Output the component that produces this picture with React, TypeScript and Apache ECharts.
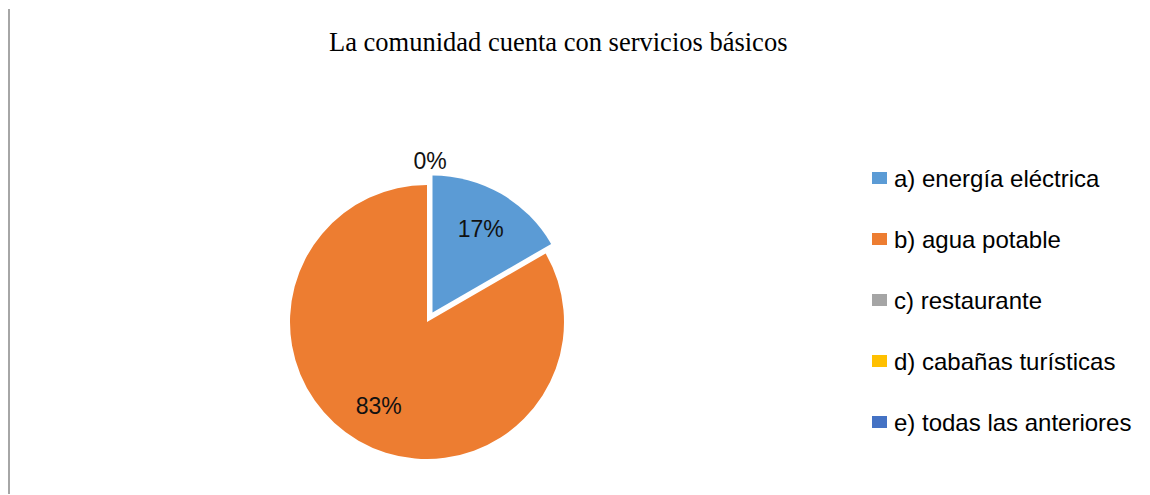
import React, { useEffect, useRef } from 'react';
import * as echarts from 'echarts';

const categories = [
  'a) energía eléctrica',
  'b) agua potable',
  'c) restaurante',
  'd) cabañas turísticas',
  'e) todas las anteriores',
];
const values = [1, 5, 0, 0, 0];
const colors = ['#5B9BD5', '#ED7D31', '#A5A5A5', '#FFC000', '#4472C4'];
const explodedIndex = 0;
const titleText = 'La comunidad cuenta con servicios básicos';

export default function App() {
  const ref = useRef<HTMLDivElement>(null);
  useEffect(() => {
    document.body.style.margin = '0';
    const chart = echarts.init(ref.current!, null, { renderer: 'svg' });
    const center = [427, 322];
    const r = 137;
    const labelFont = "'Liberation Sans', Arial, sans-serif";
    const pct = (p: any) => Math.round(p.percent) + '%';
    chart.setOption({
      animation: false,
      title: {
        text: titleText,
        left: 324,
        top: 23,
        textStyle: {
          fontFamily: "'Liberation Serif', 'Times New Roman', serif",
          fontSize: 26.5,
          fontWeight: 'normal',
          color: '#000',
        },
      },
      legend: {
        orient: 'vertical',
        left: 872,
        top: 164,
        padding: 0,
        itemWidth: 15,
        itemHeight: 12,
        itemGap: 33,
        icon: 'rect',
        selectedMode: false,
        data: categories,
        textStyle: {
          fontFamily: "'Liberation Sans', Arial, sans-serif",
          fontSize: 24,
          lineHeight: 28,
          color: '#000',
          padding: [0, 0, 0, 2],
        },
      },
      graphic: [
        {
          type: 'line',
          shape: { x1: 9, y1: 9, x2: 9, y2: 494 },
          style: { stroke: '#A6A6A6', lineWidth: 2 },
        },
      ],
      series: [
        {
          type: 'pie',
          center,
          radius: r,
          startAngle: 90,
          clockwise: true,
          selectedMode: 'single',
          selectedOffset: 11,
          avoidLabelOverlap: false,
          emphasis: { disabled: true },
          data: categories.map((name, i) => ({
            name,
            value: values[i],
            selected: i === explodedIndex,
            itemStyle: { color: colors[i] },
            label: { show: values[i] === 0 },
          })),
          label: {
            position: 'outside',
            formatter: pct,
            fontFamily: labelFont,
            fontSize: 23,
            color: '#111',
            distanceToLabelLine: 0,
          },
          labelLine: { show: false, length: 24, length2: 0 },
          labelLayout: () => ({ align: 'center', dx: 3, hideOverlap: true }),
        },
        {
          type: 'pie',
          center,
          radius: [50, r],
          startAngle: 90,
          clockwise: true,
          silent: true,
          selectedMode: 'single',
          selectedOffset: 11,
          avoidLabelOverlap: false,
          data: categories.map((name, i) => ({
            name,
            value: values[i],
            selected: i === explodedIndex,
            itemStyle: { color: 'rgba(0,0,0,0)' },
            label: { show: values[i] !== 0 },
          })),
          label: {
            position: 'inside',
            formatter: pct,
            fontFamily: labelFont,
            fontSize: 23,
            color: '#111',
          },
          labelLine: { show: false },
        },
      ],
    });
    return () => chart.dispose();
  }, []);
  return <div ref={ref} style={{ width: 1150, height: 495 }} />;
}
